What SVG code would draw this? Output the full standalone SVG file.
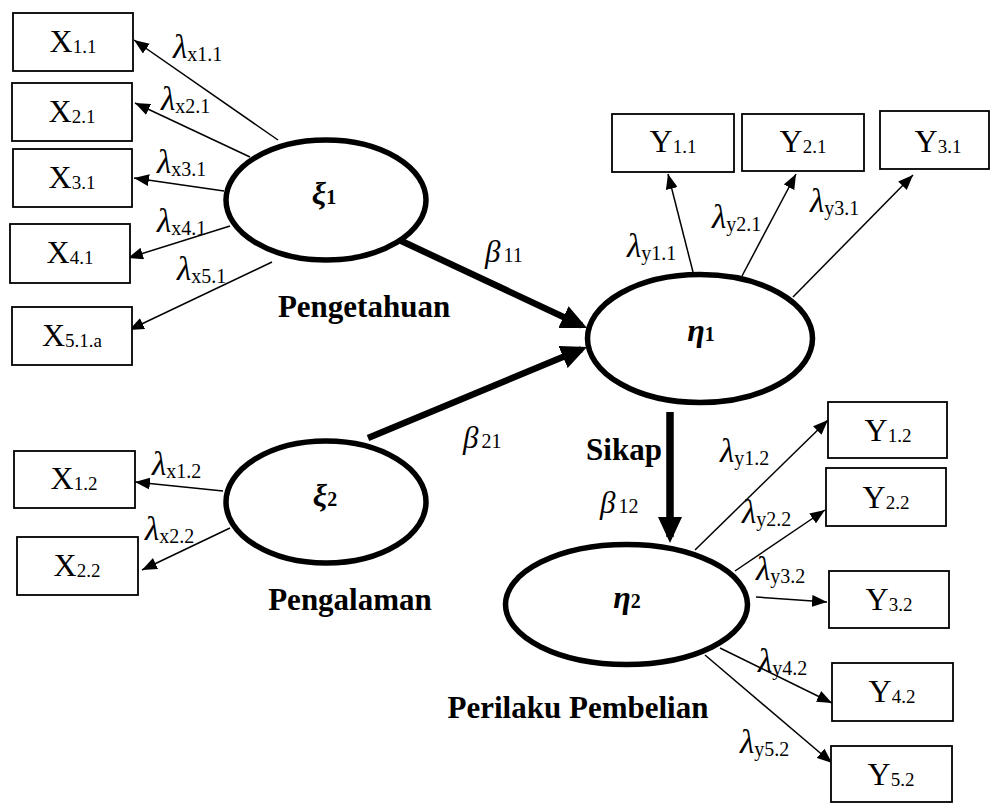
<svg xmlns="http://www.w3.org/2000/svg" width="992" height="804" viewBox="0 0 992 804">
  <style>
    .box { fill: #fff; stroke: #000; stroke-width: 1.8; }
    .lat { fill: #fff; stroke: #000; stroke-width: 5.5; }
    .lbl { font-family: "Liberation Serif", "Times New Roman", serif; fill: #000; }
    .box-t { font-size: 32px; text-anchor: middle; }
    .box-t tspan { font-size: 19px; }
    .lam { font-size: 33px; font-style: italic; }
    .lam tspan { font-size: 20px; font-style: normal; }
    .beta { font-size: 31px; font-style: italic; }
    .beta tspan { font-size: 20px; font-style: normal; }
    .lat-t { font-size: 32px; font-style: italic; font-weight: bold; text-anchor: middle; }
    .lat-t tspan { font-size: 20px; font-style: normal; }
    .name { font-size: 31px; font-weight: bold; text-anchor: middle; }
    .thin { fill: none; stroke: #000; stroke-width: 1.5; marker-end: url(#ah); }
    .thick { fill: none; stroke: #000; stroke-width: 6.5; marker-end: url(#ahb); }
  </style>
  <defs>
    <marker id="ah" markerUnits="userSpaceOnUse" markerWidth="15" markerHeight="12" refX="15" refY="6" orient="auto">
      <path d="M0,0 L15,6 L0,12 z" fill="#000"/>
    </marker>
    <marker id="ahb" markerUnits="userSpaceOnUse" markerWidth="26" markerHeight="24" refX="20" refY="12" orient="auto">
      <path d="M0,0 L26,12 L0,24 z" fill="#000"/>
    </marker>
  </defs>

  <rect width="992" height="804" fill="#fff"/>

  <!-- connectors -->
  <g id="connectors">
    <path class="thin" d="M278,140 L134,40"/>
    <path class="thin" d="M250,157 L135,103"/>
    <path class="thin" d="M224,191 L134,178"/>
    <path class="thin" d="M230,226 L128,258"/>
    <path class="thin" d="M272,262 L129,330"/>
    <path class="thin" d="M223,491 L135,482"/>
    <path class="thin" d="M230,528 L142,570"/>
    <path class="thin" d="M693,272 L668,174"/>
    <path class="thin" d="M742,276 L796,174"/>
    <path class="thin" d="M793,297 L913,175"/>
    <path class="thin" d="M695,550 L828,420"/>
    <path class="thin" d="M735,571 L825,510"/>
    <path class="thin" d="M756,597 L827,602"/>
    <path class="thin" d="M720,648 L832,703"/>
    <path class="thin" d="M705,655 L832,763"/>
    <path class="thick" d="M395,238 L581.6,325.5"/>
    <path class="thick" d="M368,438 L581.5,349.3"/>
    <path class="thick" d="M670,412 L670,537" style="stroke-width:7.5"/>
  </g>

  <!-- loading labels -->
  <g id="loadings" class="lbl">
    <text class="lam" x="173" y="58">λ<tspan dy="3">x1.1</tspan></text>
    <text class="lam" x="161" y="110">λ<tspan dy="3">x2.1</tspan></text>
    <text class="lam" x="157" y="173">λ<tspan dy="3">x3.1</tspan></text>
    <text class="lam" x="157" y="232">λ<tspan dy="3">x4.1</tspan></text>
    <text class="lam" x="177" y="280">λ<tspan dy="3">x5.1</tspan></text>
    <text class="lam" x="152" y="475">λ<tspan dy="3">x1.2</tspan></text>
    <text class="lam" x="145" y="540">λ<tspan dy="3">x2.2</tspan></text>
    <text class="lam" x="627" y="257">λ<tspan dy="3">y1.1</tspan></text>
    <text class="lam" x="712" y="228">λ<tspan dy="3">y2.1</tspan></text>
    <text class="lam" x="810" y="212">λ<tspan dy="3">y3.1</tspan></text>
    <text class="lam" x="720" y="462">λ<tspan dy="3">y1.2</tspan></text>
    <text class="lam" x="742" y="523">λ<tspan dy="3">y2.2</tspan></text>
    <text class="lam" x="756" y="580">λ<tspan dy="3">y3.2</tspan></text>
    <text class="lam" x="758" y="672">λ<tspan dy="3">y4.2</tspan></text>
    <text class="lam" x="740" y="753">λ<tspan dy="3">y5.2</tspan></text>
    <text class="beta" x="485" y="262">β<tspan dx="3">11</tspan></text>
    <text class="beta" x="463" y="448">β<tspan dx="3">21</tspan></text>
    <text class="beta" x="600" y="513">β<tspan dx="3">12</tspan></text>
  </g>

  <!-- indicator boxes -->
  <g id="x11" class="lbl"><rect class="box" x="13" y="13" width="120" height="58"/><text class="box-t" x="73" y="52">X<tspan dy="1">1.1</tspan></text></g>
  <g id="x21" class="lbl"><rect class="box" x="12" y="83" width="120" height="58"/><text class="box-t" x="72" y="122">X<tspan dy="1">2.1</tspan></text></g>
  <g id="x31" class="lbl"><rect class="box" x="13" y="149" width="119" height="58"/><text class="box-t" x="72" y="188">X<tspan dy="1">3.1</tspan></text></g>
  <g id="x41" class="lbl"><rect class="box" x="10" y="224" width="120" height="59"/><text class="box-t" x="70" y="263">X<tspan dy="1">4.1</tspan></text></g>
  <g id="x51a" class="lbl"><rect class="box" x="12" y="307" width="120" height="58"/><text class="box-t" x="72" y="346">X<tspan dy="1">5.1.a</tspan></text></g>
  <g id="x12" class="lbl"><rect class="box" x="14" y="451" width="121" height="57"/><text class="box-t" x="74" y="489">X<tspan dy="1">1.2</tspan></text></g>
  <g id="x22" class="lbl"><rect class="box" x="17" y="537" width="121" height="58"/><text class="box-t" x="77" y="576">X<tspan dy="1">2.2</tspan></text></g>
  <g id="y11" class="lbl"><rect class="box" x="612" y="114" width="122" height="58"/><text class="box-t" x="673" y="152">Y<tspan dy="1">1.1</tspan></text></g>
  <g id="y21" class="lbl"><rect class="box" x="742" y="114" width="122" height="57"/><text class="box-t" x="803" y="152">Y<tspan dy="1">2.1</tspan></text></g>
  <g id="y31" class="lbl"><rect class="box" x="880" y="111" width="109" height="58"/><text class="box-t" x="938" y="152">Y<tspan dy="1">3.1</tspan></text></g>
  <g id="y12" class="lbl"><rect class="box" x="828" y="402" width="119" height="56"/><text class="box-t" x="888" y="441">Y<tspan dy="1">1.2</tspan></text></g>
  <g id="y22" class="lbl"><rect class="box" x="826" y="468" width="120" height="58"/><text class="box-t" x="886" y="508">Y<tspan dy="1">2.2</tspan></text></g>
  <g id="y32" class="lbl"><rect class="box" x="829" y="571" width="120" height="57"/><text class="box-t" x="889" y="610">Y<tspan dy="1">3.2</tspan></text></g>
  <g id="y42" class="lbl"><rect class="box" x="832" y="663" width="121" height="58"/><text class="box-t" x="892" y="702">Y<tspan dy="1">4.2</tspan></text></g>
  <g id="y52" class="lbl"><rect class="box" x="831" y="746" width="121" height="56"/><text class="box-t" x="891" y="785">Y<tspan dy="1">5.2</tspan></text></g>

  <!-- latent variables -->
  <g id="xi1" class="lbl">
    <ellipse class="lat" cx="326" cy="200" rx="100" ry="60"/>
    <text class="lat-t" x="324" y="204">ξ<tspan>1</tspan></text>
    <text class="name" x="364" y="317">Pengetahuan</text>
  </g>
  <g id="xi2" class="lbl">
    <ellipse class="lat" cx="326" cy="502" rx="100" ry="61"/>
    <text class="lat-t" x="325" y="506">ξ<tspan>2</tspan></text>
    <text class="name" x="350" y="610">Pengalaman</text>
  </g>
  <g id="eta1" class="lbl">
    <ellipse class="lat" cx="700" cy="338.5" rx="112.5" ry="64"/>
    <text class="lat-t" x="701" y="341">η<tspan>1</tspan></text>
    <text class="name" x="624" y="460">Sikap</text>
  </g>
  <g id="eta2" class="lbl">
    <ellipse class="lat" cx="626.5" cy="604.5" rx="121" ry="60"/>
    <text class="lat-t" x="627" y="608">η<tspan>2</tspan></text>
    <text class="name" x="578" y="718">Perilaku Pembelian</text>
  </g>
</svg>
